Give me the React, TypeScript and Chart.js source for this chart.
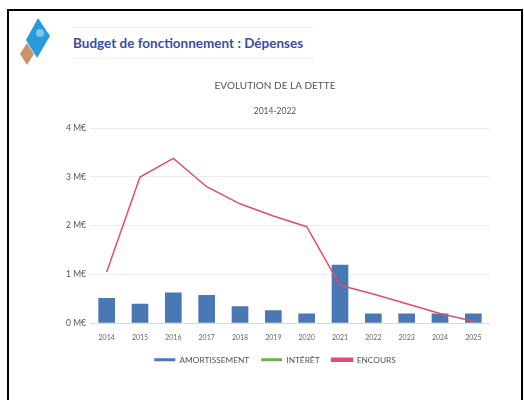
import React, { useEffect, useRef } from "react";
import { Chart, registerables } from "chart.js";

Chart.register(...registerables);

const years = ["2014", "2015", "2016", "2017", "2018", "2019", "2020", "2021", "2022", "2023", "2024", "2025"];
const amortissement = [0.52, 0.4, 0.63, 0.58, 0.35, 0.27, 0.2, 1.2, 0.2, 0.2, 0.2, 0.2];
const interet = [0, 0, 0, 0, 0, 0, 0, 0, 0, 0, 0, 0];
const encours = [1.05, 3.0, 3.38, 2.8, 2.45, 2.2, 1.98, 0.78, 0.6, 0.4, 0.2, 0.04];
const yTicks = [0, 1, 2, 3, 4];

const FONT = "Lato, 'Open Sans', sans-serif";

export default function App() {
  const ref = useRef<HTMLCanvasElement | null>(null);

  useEffect(() => {
    if (!ref.current) return;
    const chart = new Chart(ref.current, {
      type: "bar",
      data: {
        labels: years,
        datasets: [
          {
            label: "AMORTISSEMENT",
            data: amortissement,
            backgroundColor: "#4a78b4",
            borderColor: "#4a78b4",
            barPercentage: 0.5,
            categoryPercentage: 1,
            order: 2,
          },
          {
            label: "INTÉRÊT",
            data: interet,
            backgroundColor: "#70b04a",
            borderColor: "#70b04a",
            barPercentage: 0.5,
            categoryPercentage: 1,
            order: 3,
            grouped: false,
          },
          {
            type: "line",
            label: "ENCOURS",
            data: encours,
            borderColor: "#dd4f6e",
            backgroundColor: "#dd4f6e",
            borderWidth: 1.5,
            pointRadius: 0,
            tension: 0,
            order: 1,
          } as any,
        ],
      },
      options: {
        animation: false,
        responsive: false,
        maintainAspectRatio: false,
        layout: { padding: 0 },
        plugins: {
          title: {
            display: true,
            text: "EVOLUTION DE LA DETTE",
            color: "#555",
            font: { family: FONT, size: 10, weight: "normal" },
            padding: { top: 10, bottom: 14 },
          },
          subtitle: {
            display: true,
            text: "2014-2022",
            color: "#555",
            font: { family: FONT, size: 8.5 },
            padding: { top: 0, bottom: 12 },
          },
          legend: {
            position: "bottom",
            labels: {
              boxWidth: 21,
              boxHeight: 3,
              color: "#555",
              font: { family: FONT, size: 8.3 },
              padding: 12,
              sort: (a: any, b: any) => a.datasetIndex - b.datasetIndex,
            },
          },
          tooltip: { enabled: false },
        },
        scales: {
          x: {
            grid: { display: false },
            border: { display: true, color: "#d9d9d9" },
            ticks: { color: "#666", font: { family: FONT, size: 7 }, maxRotation: 0, padding: 2 },
          },
          y: {
            min: 0,
            max: 4,
            afterBuildTicks: (axis: any) => {
              axis.ticks = yTicks.map((v) => ({ value: v }));
            },
            afterFit: (axis: any) => {
              axis.width = 30;
            },
            grid: { color: "#ececec", drawTicks: false },
            border: { display: false },
            ticks: {
              color: "#555",
              font: { family: FONT, size: 8.5 },
              padding: 4,
              callback: (v: any) => `${v} M€`,
            },
          },
        },
      },
    });
    return () => chart.destroy();
  }, []);

  return (
    <div style={{ fontFamily: FONT }}>
      <div
        style={{
          position: "absolute",
          left: 7,
          top: 9,
          width: 512,
          height: 400,
          borderLeft: "2px solid #000",
          borderTop: "2px solid #000",
          borderRight: "2px solid #000",
          background: "#fff",
        }}
      />
      <svg style={{ position: "absolute", left: 0, top: 0 }} width={60} height={70}>
        <polygon points="27,43 34,54 27,65 20,54" fill="#c8956a" />
        <polygon points="38,18 50,36 37,58 26,40" fill="#2a9ad8" />
        <circle cx="40" cy="33" r="4" fill="#7cc8ef" />
      </svg>
      <div
        style={{
          position: "absolute",
          left: 73,
          top: 27,
          width: 240,
          borderTop: "1px dotted #e4e4e4",
        }}
      />
      <div
        style={{
          position: "absolute",
          left: 73,
          top: 58,
          width: 240,
          borderTop: "1px dotted #e4e4e4",
        }}
      />
      <div
        style={{
          position: "absolute",
          left: 73,
          top: 34,
          fontSize: 13.5,
          fontWeight: 700,
          color: "#3d4d9c",
          whiteSpace: "nowrap",
          lineHeight: "18px",
        }}
      >
        Budget de fonctionnement : Dépenses
      </div>
      <canvas
        ref={ref}
        width={430}
        height={304}
        style={{ position: "absolute", left: 60, top: 70, width: 430, height: 304 }}
      />
    </div>
  );
}
